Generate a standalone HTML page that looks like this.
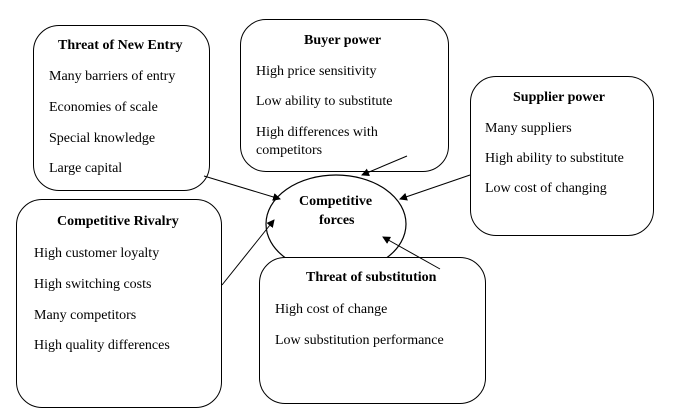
<!DOCTYPE html>
<html><head><style>
body{margin:0;width:676px;height:415px;background:#fff;position:relative;overflow:hidden;font-family:"Liberation Serif",serif;font-size:14px;color:#000}
.b{position:absolute;border:1.3px solid #000;border-radius:26px;background:#fff;box-sizing:border-box}
.t{position:absolute;white-space:nowrap;line-height:16px}
.h{font-weight:bold}
</style></head><body>
<svg width="676" height="415" style="position:absolute;left:0;top:0">
<defs><marker id="a" markerWidth="8" markerHeight="8" refX="7" refY="4" orient="auto" markerUnits="userSpaceOnUse"><path d="M0,0 L8,4 L0,8 z"/></marker></defs>
<ellipse cx="336" cy="224" rx="70" ry="49" fill="#fff" stroke="#000" stroke-width="1.2"/>
</svg>
<div class="b" style="left:33px;top:25px;width:177px;height:166px"></div>
<div class="b" style="left:240px;top:19px;width:209px;height:153px"></div>
<div class="b" style="left:470px;top:76px;width:184px;height:160px"></div>
<div class="b" style="left:16px;top:199px;width:206px;height:209px"></div>
<div class="b" style="left:259px;top:257px;width:227px;height:147px"></div>
<svg width="676" height="415" style="position:absolute;left:0;top:0">
<g stroke="#000" stroke-width="1" marker-end="url(#a)">
<line x1="204" y1="176" x2="280" y2="199"/>
<line x1="407" y1="156" x2="362" y2="175"/>
<line x1="470" y1="175" x2="400" y2="199"/>
<line x1="222" y1="285" x2="274" y2="220"/>
<line x1="440" y1="269" x2="383" y2="237"/>
</g></svg>
<div class="t h" style="left:58px;top:38px">Threat of New Entry</div>
<div class="t" style="left:49px;top:69px">Many barriers of entry</div>
<div class="t" style="left:49px;top:100px">Economies of scale</div>
<div class="t" style="left:49px;top:131px">Special knowledge</div>
<div class="t" style="left:49px;top:161px">Large capital</div>
<div class="t h" style="left:304px;top:33px">Buyer power</div>
<div class="t" style="left:256px;top:64px">High price sensitivity</div>
<div class="t" style="left:256px;top:94px">Low ability to substitute</div>
<div class="t" style="left:256px;top:125px">High differences with</div>
<div class="t" style="left:256px;top:143px">competitors</div>
<div class="t h" style="left:513px;top:90px">Supplier power</div>
<div class="t" style="left:485px;top:121px">Many suppliers</div>
<div class="t" style="left:485px;top:151px">High ability to substitute</div>
<div class="t" style="left:485px;top:181px">Low cost of changing</div>
<div class="t h" style="left:299px;top:194px">Competitive</div>
<div class="t h" style="left:319px;top:213px">forces</div>
<div class="t h" style="left:57px;top:214px">Competitive Rivalry</div>
<div class="t" style="left:34px;top:246px">High customer loyalty</div>
<div class="t" style="left:34px;top:277px">High switching costs</div>
<div class="t" style="left:34px;top:308px">Many competitors</div>
<div class="t" style="left:34px;top:338px">High quality differences</div>
<div class="t h" style="left:306px;top:270px">Threat of substitution</div>
<div class="t" style="left:275px;top:302px">High cost of change</div>
<div class="t" style="left:275px;top:333px">Low substitution performance</div>
</body></html>
